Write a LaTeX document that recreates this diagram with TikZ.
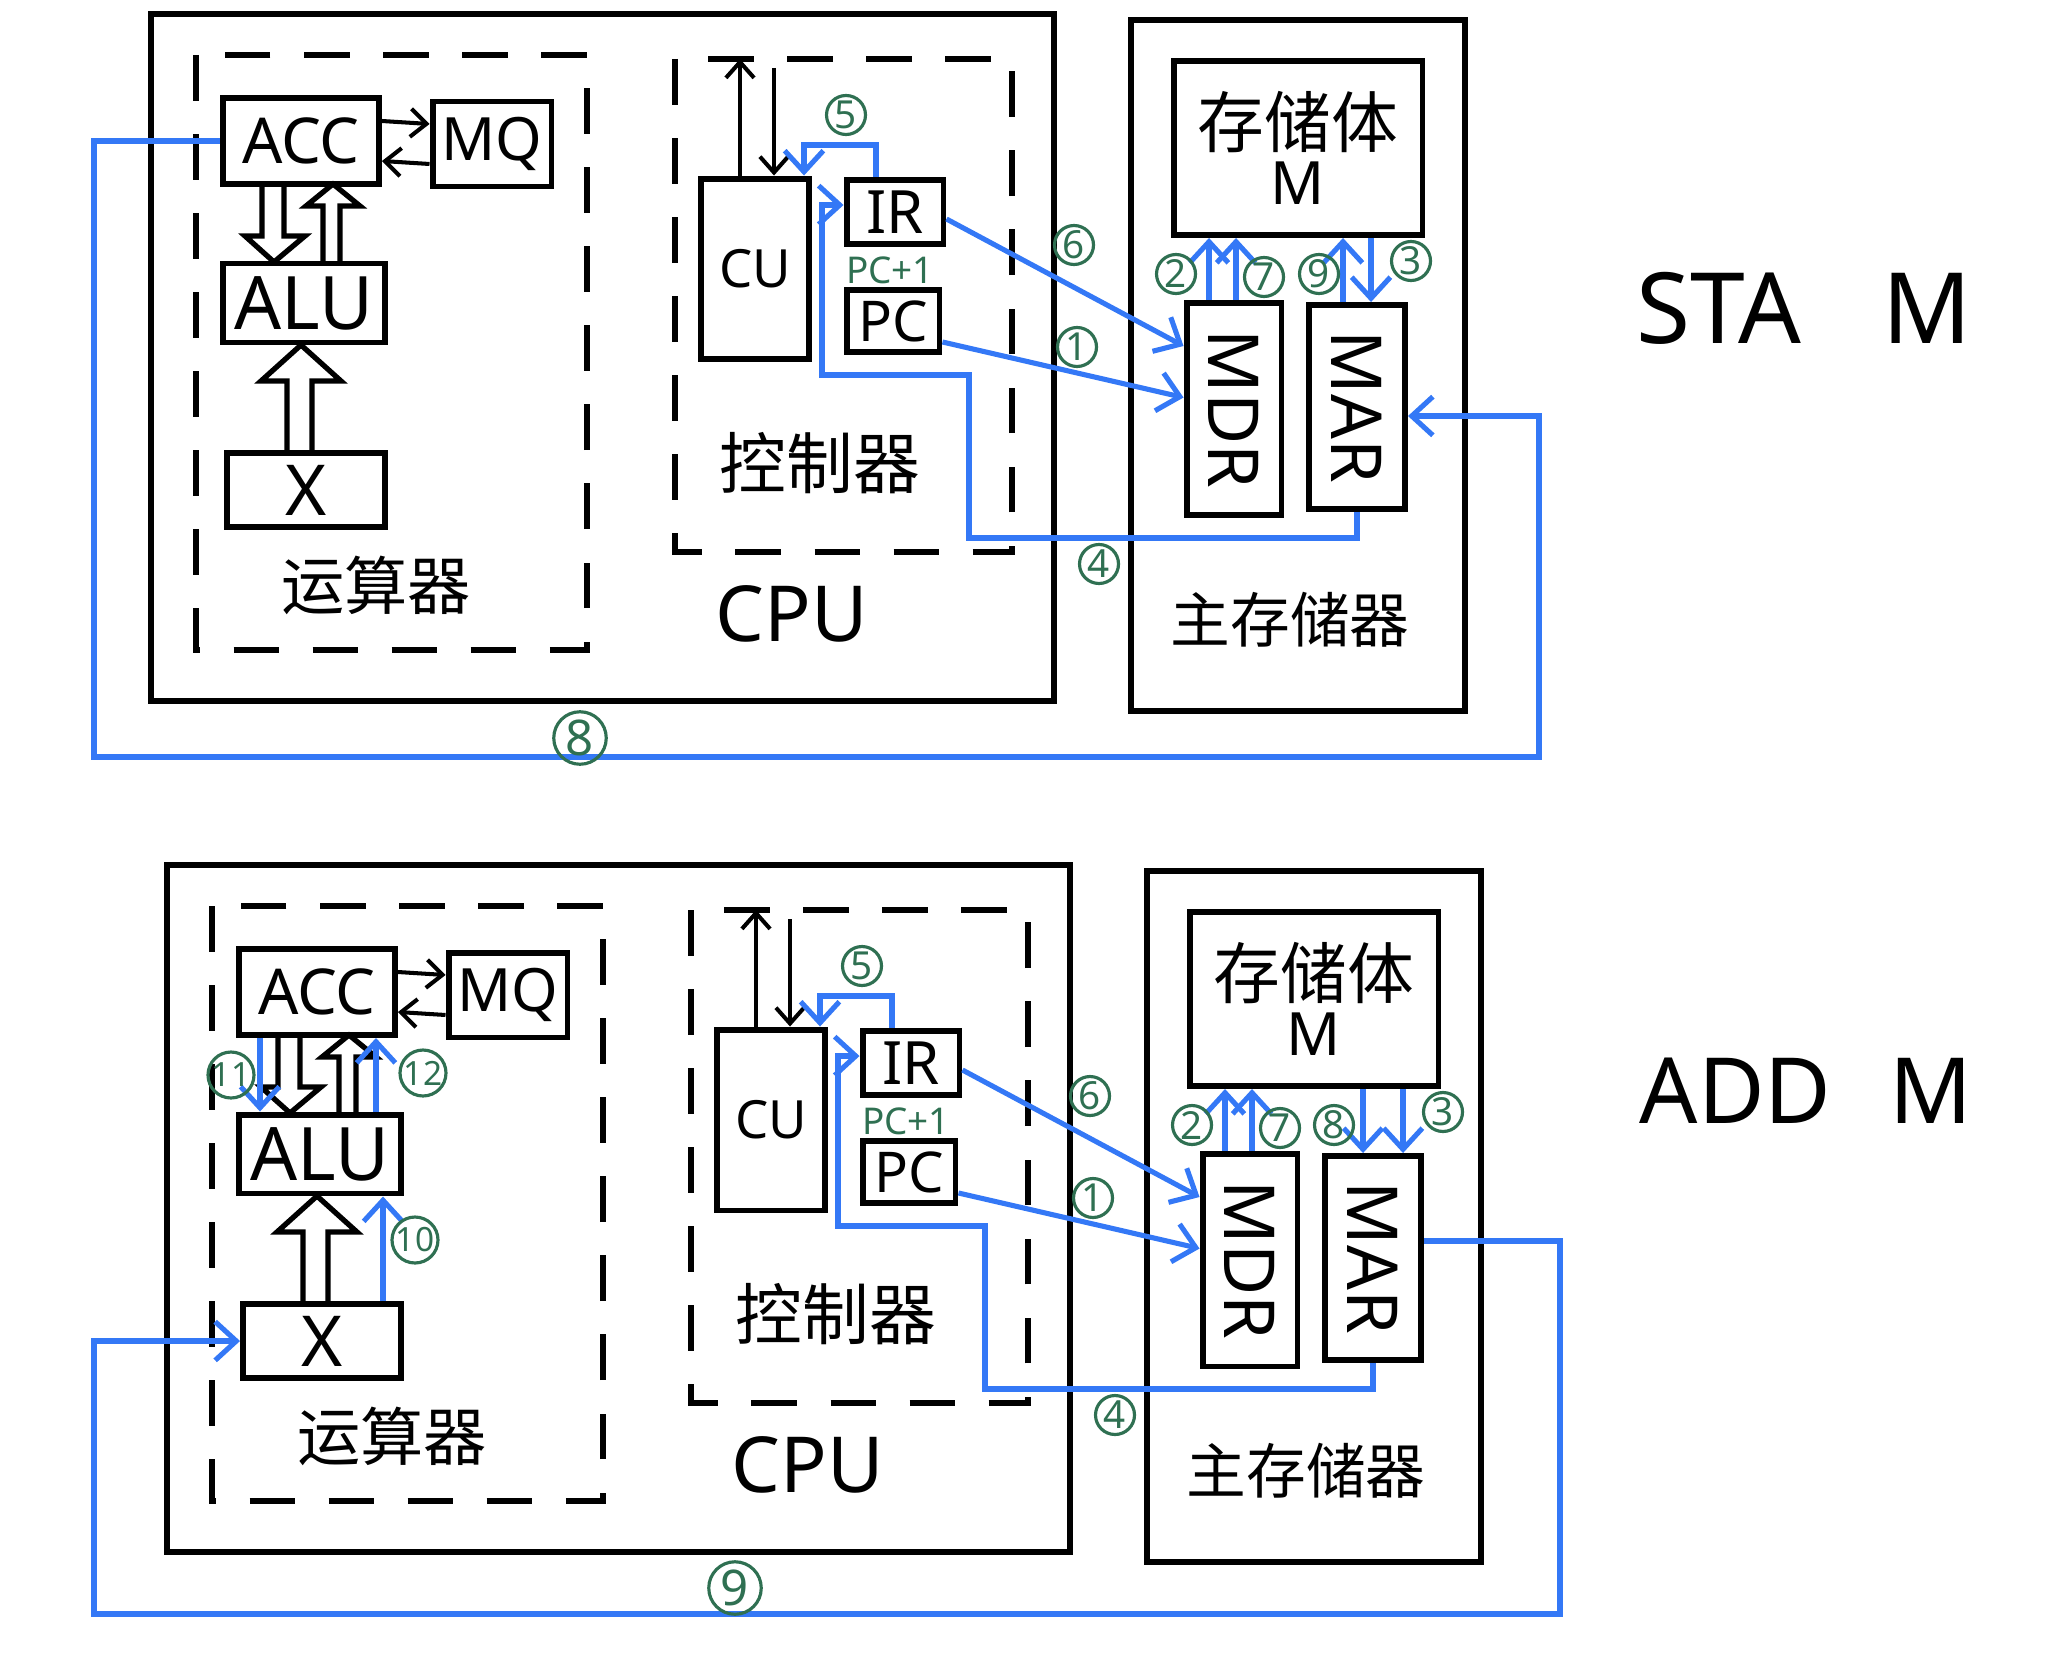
\documentclass[tikz,border=0pt]{standalone}
\usepackage{fontspec}
\setmainfont{Noto Sans}
\newfontfamily\cjk{Noto Sans CJK SC}
\usetikzlibrary{arrows.meta}
\definecolor{flowblue}{RGB}{52,120,246}
\definecolor{tagGreen}{RGB}{47,112,82}

\begin{document}
\begin{tikzpicture}[x=0.02cm, y=-0.02cm,
  unitbox/.style={draw, line width=3.4pt, inner sep=0pt},
  framebox/.style={draw, line width=3.4pt},
  regionbox/.style={draw, line width=3.0pt, dash pattern=on 26pt off 19pt},
  blackbus/.style={draw, line width=2.3pt, -{Straight Barb[length=9pt,width=16pt]}},
  blueflow/.style={draw=flowblue, line width=2.9pt, -{Straight Barb[length=12pt,width=22pt]}},
  blockarrow/.style={draw, line width=3.0pt, line join=miter},
  steptag/.style={circle, draw=tagGreen, text=tagGreen, line width=1.8pt, minimum size=0.78cm, inner sep=0pt, font=\fontsize{22}{22}\selectfont},
  bigtag/.style={steptag, minimum size=1.05cm, font=\fontsize{28}{28}\selectfont},
  wide tag/.style={steptag, minimum size=0.92cm, font=\fontsize{19}{19}\selectfont}]
\useasboundingbox (0,0) rectangle (2047,1652);

% the two panels share the same CPU and memory layout
\foreach \p/\dx/\dy in {a/0/0, b/16/851}{
\begin{scope}[shift={(\dx,\dy)}]
\draw[framebox] (151,14) rectangle (1054,701);
\draw[regionbox] (196,55) rectangle (587,650);
\draw[regionbox] (675,59) rectangle (1012,552);
\draw[framebox] (1131,20) rectangle (1465,711);

\node[unitbox, minimum width=3.12cm, minimum height=1.72cm, font=\fontsize{36}{36}\selectfont] (\p-acc) at (301,141) {ACC};
\node[unitbox, minimum width=2.38cm, minimum height=1.70cm, font=\fontsize{34}{34}\selectfont] (\p-mq) at (492,144) {MQ};
\node[unitbox, minimum width=3.24cm, minimum height=1.58cm, font=\fontsize{42}{42}\selectfont] (\p-alu) at (304,303) {ALU};
\node[unitbox, minimum width=3.16cm, minimum height=1.48cm, font=\fontsize{40}{40}\selectfont] (\p-x) at (306,490) {X};
\node[unitbox, minimum width=2.16cm, minimum height=3.62cm, font=\fontsize{30}{30}\selectfont] (\p-cu) at (755,269) {CU};
\node[unitbox, minimum width=1.94cm, minimum height=1.28cm, font=\fontsize{34}{34}\selectfont] (\p-ir) at (895,212) {IR};
\node[unitbox, minimum width=1.86cm, minimum height=1.24cm, font=\fontsize{32}{32}\selectfont] (\p-pc) at (893,321) {PC};
\node[unitbox, minimum width=4.98cm, minimum height=3.48cm, align=center] (\p-store) at (1298,148)
  {{\cjk\fontsize{38}{40}\selectfont 存储体}\\[4pt]{\fontsize{34}{34}\selectfont M}};
\node[unitbox, minimum width=1.90cm, minimum height=4.26cm] (\p-mdr) at (1234,409) {};
\node[unitbox, minimum width=1.92cm, minimum height=4.08cm] (\p-mar) at (1357,407) {};
\node[rotate=-90, font=\fontsize{40}{40}\selectfont] (\p-mdrtext) at (\p-mdr) {MDR};
\node[rotate=-90, font=\fontsize{40}{40}\selectfont] (\p-martext) at (\p-mar) {MAR};

\node[font=\cjk\fontsize{36}{36}\selectfont] (\p-alutitle) at (376,585) {运算器};
\node[font=\cjk\fontsize{38}{38}\selectfont] (\p-ctltitle) at (820,463) {控制器};
\node[font=\fontsize{44}{44}\selectfont] (\p-cputitle) at (792,614) {CPU};
\node[font=\cjk\fontsize{34}{34}\selectfont] (\p-memtitle) at (1290,620) {主存储器};
\node[text=tagGreen, font=\fontsize{21}{21}\selectfont] (\p-pcinc) at (890,270) {PC+1};

% wide hollow data paths
\draw[blockarrow] (262,184) -- (262,236) -- (245,236) -- (274,262) -- (305,236) -- (284,236) -- (284,184);
\draw[blockarrow] (323,262) -- (323,206) -- (306,206) -- (333,184) -- (360,206) -- (340,206) -- (340,262);
\draw[blockarrow] (287,453) -- (287,381) -- (261,381) -- (301,345) -- (341,381) -- (312,381) -- (312,453);

\draw[blackbus] ([yshift=0.4cm]\p-acc.east) -- ([yshift=0.4cm]\p-mq.west);
\draw[blackbus] ([yshift=-0.4cm]\p-mq.west) -- ([yshift=-0.4cm]\p-acc.east);
\coordinate (\p-busout) at (740,59);
\coordinate (\p-busin) at (774,68);
\draw[blackbus] (\p-cu.north -| \p-busout) -- (\p-busout);
\draw[blackbus] (\p-busin) -- (\p-cu.north -| \p-busin);

% fetch steps
\draw[blueflow] ([yshift=-0.42cm]\p-pc.east) -- ([yshift=0.23cm]\p-mdr.west);
\draw[blueflow] (\p-mdr.north -| 1209,0) -- (\p-store.south -| 1209,0);
\draw[blueflow] (\p-mar.south) |- (969,538) |- (822,375) |- ([yshift=0.14cm]\p-ir.west);
\draw[blueflow] (\p-ir.north -| 876,0) |- (804,145) -- (\p-cu.north -| 804,0);
\draw[blueflow] ([yshift=-0.14cm]\p-ir.east) -- ([yshift=1.26cm]\p-mdr.west);
\draw[blueflow] (\p-mdr.north -| 1236,0) -- (\p-store.south -| 1236,0);
\foreach \n/\tx/\ty in {1/1077/347, 2/1176/274, 4/1099/564, 5/846/115, 6/1074/245, 7/1264/277}
  \node[steptag] (\p-tag\n) at (\tx,\ty) {\n};
\end{scope}
}

% STA M
\draw[blueflow] (a-mar.north -| 1343,0) -- (a-store.south -| 1343,0);
\draw[blueflow] (a-store.south -| 1371,0) -- (a-mar.north -| 1371,0);
\draw[blueflow] (a-acc.west) -| (94,757) -| (1539,416) -- (a-mar.east |- 0,416);
\node[steptag] (a-tag9) at (1319,274) {9};
\node[steptag] (a-tag3) at (1411,261) {3};
\node[bigtag] (a-tag8) at (580,738) {8};
\node[font=\fontsize{56}{56}\selectfont] (stacap) at (1804,308) {STA\hspace{46pt}M};

% ADD M
\draw[blueflow] (b-store.south -| 1363,0) -- (b-mar.north -| 1363,0);
\draw[blueflow] (b-store.south -| 1403,0) -- (b-mar.north -| 1403,0);
\draw[blueflow] (b-mar.east |- 0,1241) -| (1560,1614) -| (94,1341) -- (b-x.west);
\draw[blueflow] (b-x.north -| 383,0) -- (b-alu.south -| 383,0);
\draw[blueflow] (b-acc.south -| 260,0) -- (b-alu.north -| 260,0);
\draw[blueflow] (b-alu.north -| 376,0) -- (b-acc.south -| 376,0);
\node[steptag] (b-tag8) at (1334,1125) {8};
\node[steptag] (b-tag3) at (1443,1112) {3};
\node[bigtag] (b-tag9) at (735,1588) {9};
\node[wide tag] (b-tag10) at (415,1240) {10};
\node[wide tag] (b-tag11) at (231,1075) {11};
\node[wide tag] (b-tag12) at (423,1073) {12};
\node[font=\fontsize{52}{52}\selectfont] (addcap) at (1806,1091) {ADD\hspace{33pt}M};
\end{tikzpicture}
\end{document}
